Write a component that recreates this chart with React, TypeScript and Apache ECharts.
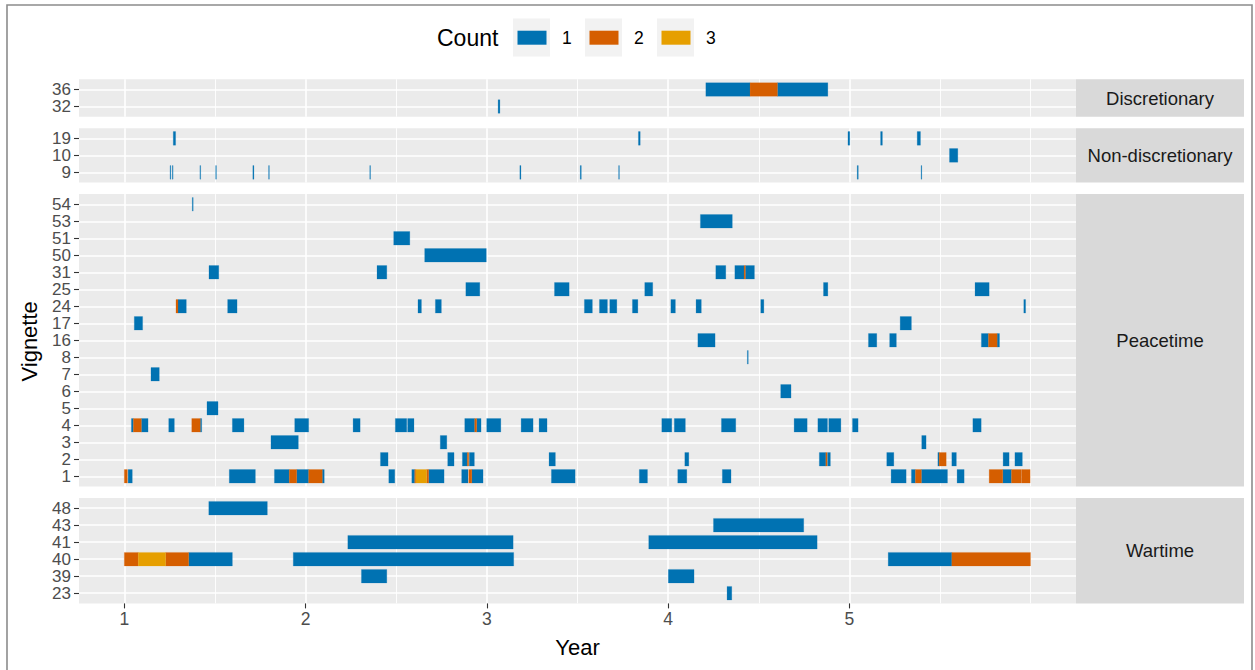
import React, { useEffect, useRef } from "react";
import * as echarts from "echarts";

// ---------------- data ----------------
const countLevels = [1, 2, 3];
const countColors: Record<number, string> = { 1: "#0072B2", 2: "#D55E00", 3: "#E69F00" };

const facetNames = ["Discretionary", "Non-discretionary", "Peacetime", "Wartime"];

// vignettes of each facet, bottom -> top
const discVignettes = ["32", "36"];
const nonDiscVignettes = ["9", "10", "19"];
const peaceVignettes = ["1", "2", "3", "4", "5", "6", "7", "8", "16", "17", "24", "25", "31", "50", "51", "53", "54"];
const warVignettes = ["23", "39", "40", "41", "43", "48"];

// segments: [vignette, start year, end year, count]
type Seg = [string, number, number, number];

const discSegments: Seg[] = [
  ["36", 4.208, 4.452, 1], ["36", 4.452, 4.603, 2], ["36", 4.603, 4.881, 1],
  ["32", 3.062, 3.072, 1],
];

const nonDiscSegments: Seg[] = [
  ["19", 1.270, 1.283, 1], ["19", 3.836, 3.846, 1], ["19", 4.992, 5.002, 1], ["19", 5.172, 5.182, 1], ["19", 5.374, 5.392, 1],
  ["10", 5.552, 5.598, 1],
  ["9", 1.252, 1.256, 1], ["9", 1.265, 1.269, 1], ["9", 1.417, 1.421, 1], ["9", 1.504, 1.508, 1], ["9", 1.709, 1.715, 1],
  ["9", 1.796, 1.800, 1], ["9", 2.354, 2.358, 1], ["9", 3.182, 3.188, 1], ["9", 3.515, 3.521, 1], ["9", 3.727, 3.731, 1],
  ["9", 5.043, 5.049, 1], ["9", 5.395, 5.399, 1],
];

const peaceSegments: Seg[] = [
  ["54", 1.375, 1.380, 1],
  ["53", 4.178, 4.354, 1],
  ["51", 2.486, 2.575, 1],
  ["50", 2.657, 2.997, 1],
  ["31", 1.467, 1.521, 1], ["31", 2.394, 2.448, 1], ["31", 4.263, 4.318, 1], ["31", 4.368, 4.419, 1], ["31", 4.419, 4.426, 2], ["31", 4.426, 4.476, 1],
  ["25", 2.884, 2.961, 1], ["25", 3.373, 3.454, 1], ["25", 3.871, 3.915, 1], ["25", 4.857, 4.881, 1], ["25", 5.693, 5.771, 1],
  ["24", 1.285, 1.296, 2], ["24", 1.296, 1.342, 1], ["24", 1.570, 1.622, 1], ["24", 2.620, 2.639, 1], ["24", 2.716, 2.749, 1],
  ["24", 3.538, 3.582, 1], ["24", 3.621, 3.665, 1], ["24", 3.678, 3.717, 1], ["24", 3.803, 3.833, 1], ["24", 4.015, 4.040, 1],
  ["24", 4.154, 4.183, 1], ["24", 4.511, 4.528, 1], ["24", 5.962, 5.972, 1],
  ["17", 1.055, 1.101, 1], ["17", 5.280, 5.342, 1],
  ["16", 4.164, 4.259, 1], ["16", 5.105, 5.151, 1], ["16", 5.222, 5.259, 1], ["16", 5.728, 5.767, 1], ["16", 5.767, 5.815, 2], ["16", 5.815, 5.828, 1],
  ["8", 4.437, 4.442, 1],
  ["7", 1.147, 1.193, 1],
  ["6", 4.621, 4.678, 1],
  ["5", 1.456, 1.517, 1],
  ["4", 1.039, 1.050, 1], ["4", 1.050, 1.094, 2], ["4", 1.094, 1.131, 1], ["4", 1.245, 1.276, 1], ["4", 1.372, 1.419, 2],
  ["4", 1.419, 1.427, 1], ["4", 1.596, 1.660, 1], ["4", 1.940, 2.017, 1], ["4", 2.262, 2.301, 1], ["4", 2.495, 2.558, 1],
  ["4", 2.563, 2.598, 1], ["4", 2.878, 2.933, 1], ["4", 2.933, 2.944, 2], ["4", 2.944, 2.968, 1], ["4", 2.999, 3.077, 1],
  ["4", 3.189, 3.255, 1], ["4", 3.288, 3.332, 1], ["4", 3.965, 4.020, 1], ["4", 4.034, 4.095, 1], ["4", 4.294, 4.373, 1],
  ["4", 4.695, 4.767, 1], ["4", 4.826, 4.879, 1], ["4", 4.886, 4.953, 1], ["4", 5.017, 5.048, 1], ["4", 5.681, 5.727, 1],
  ["3", 1.809, 1.960, 1], ["3", 2.743, 2.779, 1], ["3", 5.399, 5.423, 1],
  ["2", 2.413, 2.455, 1], ["2", 2.784, 2.819, 1], ["2", 2.865, 2.892, 1], ["2", 2.892, 2.900, 2], ["2", 2.903, 2.931, 1],
  ["2", 3.343, 3.378, 1], ["2", 4.092, 4.114, 1], ["2", 4.834, 4.870, 1], ["2", 4.870, 4.877, 2], ["2", 4.879, 4.895, 1],
  ["2", 5.206, 5.245, 1], ["2", 5.488, 5.495, 1], ["2", 5.495, 5.534, 2], ["2", 5.565, 5.590, 1], ["2", 5.848, 5.881, 1],
  ["2", 5.913, 5.954, 1],
  ["1", 1.000, 1.017, 2], ["1", 1.021, 1.044, 1], ["1", 1.579, 1.723, 1], ["1", 1.828, 1.910, 1], ["1", 1.910, 1.951, 2],
  ["1", 1.951, 2.017, 1], ["1", 2.017, 2.092, 2], ["1", 2.092, 2.103, 1], ["1", 2.459, 2.492, 1], ["1", 2.586, 2.602, 1],
  ["1", 2.602, 2.608, 2], ["1", 2.608, 2.668, 3], ["1", 2.668, 2.679, 2], ["1", 2.679, 2.764, 1], ["1", 2.861, 2.896, 1],
  ["1", 2.900, 2.917, 2], ["1", 2.917, 2.979, 1], ["1", 3.356, 3.487, 1], ["1", 3.841, 3.886, 1], ["1", 4.053, 4.103, 1],
  ["1", 4.299, 4.347, 1], ["1", 5.230, 5.313, 1], ["1", 5.342, 5.364, 1], ["1", 5.364, 5.397, 2], ["1", 5.397, 5.541, 1],
  ["1", 5.594, 5.633, 1], ["1", 5.771, 5.846, 2], ["1", 5.846, 5.894, 1], ["1", 5.894, 5.950, 2], ["1", 5.952, 5.997, 2],
];

const warSegments: Seg[] = [
  ["48", 1.466, 1.789, 1],
  ["43", 4.250, 4.748, 1],
  ["41", 2.233, 3.145, 1], ["41", 3.893, 4.822, 1],
  ["40", 1.000, 1.077, 2], ["40", 1.077, 1.228, 3], ["40", 1.228, 1.355, 2], ["40", 1.355, 1.596, 1],
  ["40", 1.932, 3.148, 1], ["40", 5.214, 5.565, 1], ["40", 5.565, 5.999, 2],
  ["39", 2.308, 2.448, 1], ["39", 4.001, 4.143, 1],
  ["23", 4.325, 4.351, 1],
];

const xMajorTicks = [1, 2, 3, 4, 5];
const xMinorTicks = [1.5, 2.5, 3.5, 4.5, 5.5, 6];

// ---------------- layout ----------------
const FONT = "'Liberation Sans', Arial, Helvetica, sans-serif";
const PANEL_LEFT = 79;
const PANEL_RIGHT = 1076;
const FIRST_TOP = 79.3;
const UNIT = 17;
const GAP = 11.5;
const STRIP_RIGHT = 1244;

const facetVignettes = [discVignettes, nonDiscVignettes, peaceVignettes, warVignettes];
const facetSegments = [discSegments, nonDiscSegments, peaceSegments, warSegments];

function buildOption() {
  const panels: { top: number; height: number }[] = [];
  let top = FIRST_TOP;
  facetVignettes.forEach((v) => {
    const h = (v.length + 0.2) * UNIT;
    panels.push({ top, height: h });
    top += h + GAP;
  });

  const grids: any[] = [];
  const xAxes: any[] = [];
  const yAxes: any[] = [];
  const series: any[] = [];
  const graphics: any[] = [];

  panels.forEach((p, i) => {
    const vig = facetVignettes[i];
    const isBottom = i === panels.length - 1;
    grids.push({
      left: PANEL_LEFT,
      top: p.top,
      width: PANEL_RIGHT - PANEL_LEFT,
      height: p.height,
      show: true,
      backgroundColor: "#EBEBEB",
      borderWidth: 0,
      containLabel: false,
      outerBoundsMode: "none",
    });
    // major x axis
    xAxes.push({
      type: "value",
      gridIndex: i,
      min: 0.75,
      max: 6.25,
      position: "bottom",
      axisLine: { show: false },
      axisTick: {
        show: isBottom,
        customValues: xMajorTicks,
        length: 5,
        lineStyle: { color: "#333333", width: 1.1 },
      },
      axisLabel: {
        show: isBottom,
        customValues: xMajorTicks,
        fontSize: 17.5,
        color: "#4D4D4D",
        fontFamily: FONT,
        margin: 7,
        hideOverlap: false,
      },
      splitLine: { show: true, lineStyle: { color: "#FFFFFF", width: 1.6 } },
    });
    // minor x axis (grid lines only)
    xAxes.push({
      type: "value",
      gridIndex: i,
      min: 0.75,
      max: 6.25,
      position: "top",
      axisLine: { show: false },
      axisTick: { show: false, customValues: xMinorTicks },
      axisLabel: { show: false },
      splitLine: { show: true, lineStyle: { color: "#FFFFFF", width: 0.9 } },
    });
    const rowIdx = vig.map((_, k) => k + 1);
    yAxes.push({
      type: "value",
      gridIndex: i,
      min: 0.4,
      max: vig.length + 0.6,
      axisLine: { show: false },
      axisTick: {
        show: true,
        customValues: rowIdx,
        length: 5,
        lineStyle: { color: "#333333", width: 1.1 },
      },
      axisLabel: {
        customValues: rowIdx,
        formatter: (v: number) => vig[Math.round(v) - 1] ?? "",
        fontSize: 17,
        lineHeight: 15,
        color: "#4D4D4D",
        fontFamily: FONT,
        margin: 8,
        hideOverlap: false,
        showMinLabel: true,
        showMaxLabel: true,
      },
      splitLine: { show: true, lineStyle: { color: "#FFFFFF", width: 1.6 } },
    });

    countLevels.forEach((c) => {
      const data = facetSegments[i]
        .filter((s) => s[3] === c)
        .map((s) => [s[1], s[2], vig.indexOf(s[0]) + 1]);
      if (!data.length) return;
      const color = countColors[c];
      series.push({
        type: "custom",
        name: String(c),
        xAxisIndex: i * 2,
        yAxisIndex: i,
        clip: true,
        itemStyle: { color },
        encode: { x: [0, 1], y: 2 },
        data,
        renderItem: (params: any, api: any) => {
          const s = api.coord([api.value(0), api.value(2)]);
          const e = api.coord([api.value(1), api.value(2)]);
          const h = api.size([0, 0.8])[1];
          return {
            type: "rect",
            shape: { x: s[0], y: s[1] - h / 2, width: Math.max(e[0] - s[0], 0.7), height: h },
            style: { fill: color, stroke: color, lineWidth: 0.4, strokeOpacity: 0.5 },
          };
        },
      });
    });

    // strip
    graphics.push({
      type: "rect",
      shape: { x: PANEL_RIGHT, y: p.top, width: STRIP_RIGHT - PANEL_RIGHT, height: p.height },
      style: { fill: "#D9D9D9" },
      silent: true,
    });
    graphics.push({
      type: "text",
      x: (PANEL_RIGHT + STRIP_RIGHT) / 2,
      y: p.top + p.height / 2,
      style: {
        text: facetNames[i],
        fontSize: 18.5,
        fontFamily: FONT,
        fill: "#1A1A1A",
        align: "center",
        verticalAlign: "middle",
      },
    });
  });

  const panelsTop = panels[0].top;
  const panelsBottom = panels[panels.length - 1].top + panels[panels.length - 1].height;

  // outer frame
  graphics.push({
    type: "rect",
    shape: { x: 7, y: 5, width: 1245, height: 700 },
    style: { fill: "none", stroke: "#8C8C8C", lineWidth: 1.6 },
    silent: true,
  });

  // axis titles
  graphics.push({
    type: "text",
    x: (PANEL_LEFT + PANEL_RIGHT) / 2,
    y: 647,
    style: { text: "Year", fontSize: 22, fontFamily: FONT, fill: "#000000", align: "center", verticalAlign: "middle" },
  });
  graphics.push({
    type: "text",
    x: 29,
    y: (panelsTop + panelsBottom) / 2,
    rotation: Math.PI / 2,
    style: { text: "Vignette", fontSize: 22, fontFamily: FONT, fill: "#000000", align: "center", verticalAlign: "middle" },
  });

  // legend
  graphics.push({
    type: "text",
    x: 437,
    y: 38,
    style: { text: "Count", fontSize: 23, fontFamily: FONT, fill: "#000000", align: "left", verticalAlign: "middle" },
  });
  const keyBgX = [513, 585, 657];
  countLevels.forEach((c, k) => {
    graphics.push({
      type: "rect",
      shape: { x: keyBgX[k], y: 18.5, width: 37, height: 38 },
      style: { fill: "#F2F2F2" },
      silent: true,
    });
    graphics.push({
      type: "rect",
      shape: { x: keyBgX[k] + 4.5, y: 30.7, width: 29, height: 14 },
      style: { fill: countColors[c] },
      silent: true,
    });
    graphics.push({
      type: "text",
      x: keyBgX[k] + 49,
      y: 38,
      style: { text: String(c), fontSize: 17.5, fontFamily: FONT, fill: "#000000", align: "left", verticalAlign: "middle" },
    });
  });

  return {
    animation: false,
    backgroundColor: "#FFFFFF",
    textStyle: { fontFamily: FONT },
    legend: { show: false },
    tooltip: { show: false },
    grid: grids,
    xAxis: xAxes,
    yAxis: yAxes,
    series,
    graphic: graphics,
  };
}

export default function App() {
  const ref = useRef<HTMLDivElement>(null);
  useEffect(() => {
    if (!ref.current) return;
    const chart = echarts.init(ref.current, undefined, { renderer: "svg" });
    chart.setOption(buildOption() as any);
    return () => chart.dispose();
  }, []);
  return (
    <div
      ref={ref}
      style={{ position: "absolute", left: 0, top: 0, width: 1255, height: 670, background: "#FFFFFF" }}
    />
  );
}
